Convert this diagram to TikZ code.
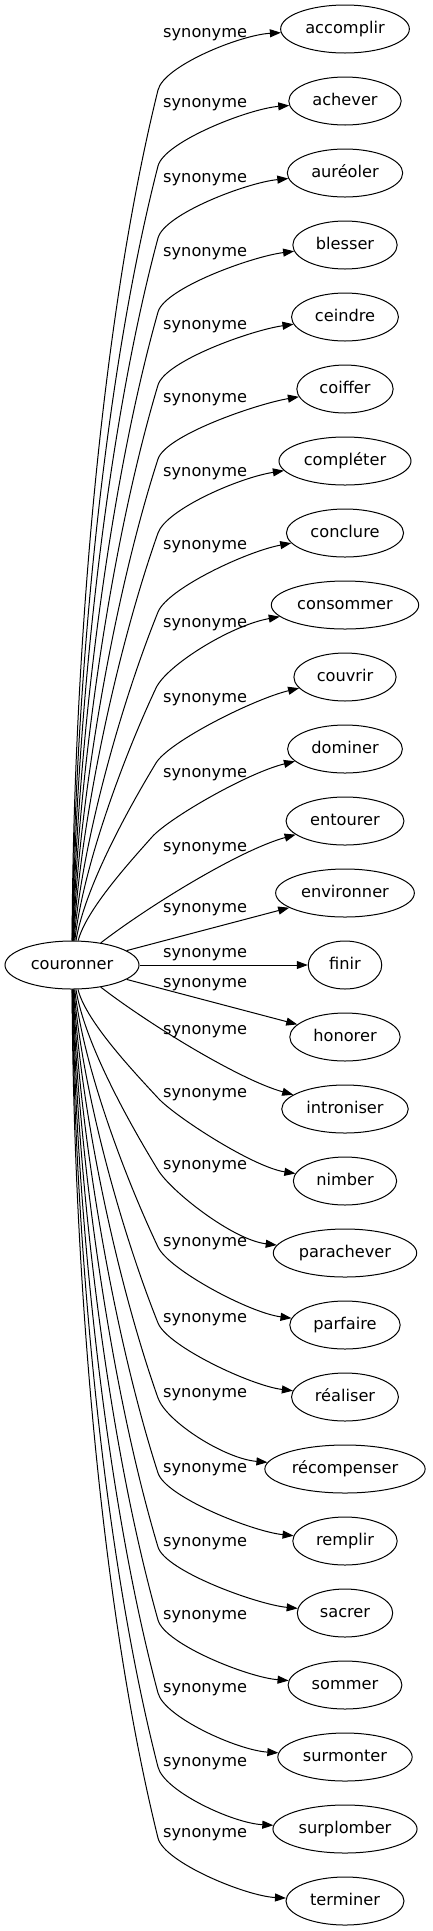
\documentclass[tikz,border=0pt]{standalone}
\usepackage{fontspec}
\setmainfont{DejaVu Sans}
\usetikzlibrary{arrows.meta,shapes.geometric,calc}
\begin{document}
\begin{tikzpicture}[x=1pt,y=-1pt,
  every node/.style={font=\fontsize{16.2}{19}\selectfont},
  word/.style={draw, ellipse, line width=1pt, inner sep=0pt, minimum height=48pt, text height=12pt, text depth=3.5pt},
  lbl/.style={anchor=base west, inner sep=0pt},
  link/.style={line width=1pt, -{Triangle[length=11pt,width=8pt]}}]
\useasboundingbox (0,0) rectangle (432,1931);
\node[word, minimum width=134pt] (src) at (72,965) {couronner};
% upper edges with knee
\foreach \i/\nm/\txt/\w/\kx/\ky/\ly in {
  0/accomplir/accomplir/128.7/158/90/33,
  1/achever/achever/112.4/158/166/103,
  2/aureoler/auréoler/115.4/158/238/178,
  3/blesser/blesser/104.3/158/312/252,
  4/ceindre/ceindre/106.9/158/385/325,
  5/coiffer/coiffer/96.3/158/459/398,
  6/completer/compléter/132.0/158/533/472,
  7/conclure/conclure/117.1/158/612/545,
  8/consommer/consommer/147.4/156/688/623,
  9/couvrir/couvrir/102.2/156/763/698,
  10/dominer/dominer/114.8/152/837/773}{
  \pgfmathsetmacro\ty{29+72*\i}
  \pgfmathsetmacro\dd{6+1.8*\i}
  \pgfmathsetmacro\dy{941-\ky}
  \pgfmathsetmacro\dx{\kx-74}
  \pgfmathsetmacro\ff{1+1.5*\dy/851}
  \pgfmathsetmacro\nn{veclen(\ff*\dx,\dy)}
  \pgfmathsetmacro\tx{\ff*\dx/\nn}
  \pgfmathsetmacro\tyy{\dy/\nn}
  \pgfmathsetmacro\hh{0.3*\dy}
  \pgfmathsetmacro\sx{86-0.0174*(\dy-104)}
  \node[word, minimum width=\w pt] (\nm) at (345,\ty) {\txt};
  \node[lbl] (l\nm) at (163,\ly+4) {synonyme};
  \coordinate (k\nm) at (\kx,\ky);
  \draw[link] (src) .. controls (\sx,941-\hh) and (\kx-\hh*\tx,\ky+\hh*\tyy) .. (k\nm)
     .. controls (\kx+25*\tx,\ky-25*\tyy) and ($(\nm.west)+(-40,\dd)$) .. (\nm);
}
% middle edges
\node[word, minimum width=117.9pt] (entourer) at (345,821) {entourer};
\node[lbl] (lentourer) at (163,851) {synonyme};
\draw[link] (src) .. controls (150,905) and (240,850) .. (entourer);
\node[word, minimum width=138.7pt] (environner) at (345,893) {environner};
\node[lbl] (lenvironner) at (163,912) {synonyme};
\draw[link] (src) -- (environner);
\node[word, minimum width=73.5pt] (finir) at (345,965) {finir};
\node[lbl] (lfinir) at (163,957) {synonyme};
\draw[link] (src) -- (finir);
\node[word, minimum width=110.4pt] (honorer) at (345,1037) {honorer};
\node[lbl] (lhonorer) at (163,987) {synonyme};
\draw[link] (src) -- (honorer);
\node[word, minimum width=126.5pt] (introniser) at (345,1109) {introniser};
\node[lbl] (lintroniser) at (163,1034) {synonyme};
\draw[link] (src) .. controls (150,1025) and (240,1080) .. (introniser);
% lower edges with knee
\foreach \i/\nm/\txt/\w/\ly in {
  16/nimber/nimber/103.3/1093,
  17/parachever/parachever/143.4/1165,
  18/parfaire/parfaire/110.4/1242,
  19/realiser/réaliser/106.9/1318,
  20/recompenser/récompenser/160.3/1393,
  21/remplir/remplir/104.4/1468,
  22/sacrer/sacrer/95.4/1542,
  23/sommer/sommer/113.8/1615,
  24/surmonter/surmonter/134.3/1688,
  25/surplomber/surplomber/144.1/1762,
  26/terminer/terminer/118.0/1833}{
  \pgfmathsetmacro\ty{29+72*\i}
  \pgfmathsetmacro\dd{-14+0.9*(\i-16)}
  \pgfmathsetmacro\kx{158}
  \pgfmathsetmacro\ky{\ly+5}
  \pgfmathsetmacro\dy{\ky-989}
  \pgfmathsetmacro\dx{\kx-74}
  \pgfmathsetmacro\ff{1+1.5*\dy/851}
  \pgfmathsetmacro\nn{veclen(\ff*\dx,\dy)}
  \pgfmathsetmacro\tx{\ff*\dx/\nn}
  \pgfmathsetmacro\tyy{\dy/\nn}
  \pgfmathsetmacro\hh{0.3*\dy}
  \pgfmathsetmacro\sx{86-0.0174*(\dy-104)}
  \node[word, minimum width=\w pt] (\nm) at (345,\ty) {\txt};
  \node[lbl] (l\nm) at (163,\ly+4) {synonyme};
  \coordinate (k\nm) at (\kx,\ky);
  \draw[link] (src) .. controls (\sx,989+\hh) and (\kx-\hh*\tx,\ky-\hh*\tyy) .. (k\nm)
     .. controls (\kx+25*\tx,\ky+25*\tyy) and ($(\nm.west)+(-40,\dd)$) .. (\nm);
}
\end{tikzpicture}
\end{document}
